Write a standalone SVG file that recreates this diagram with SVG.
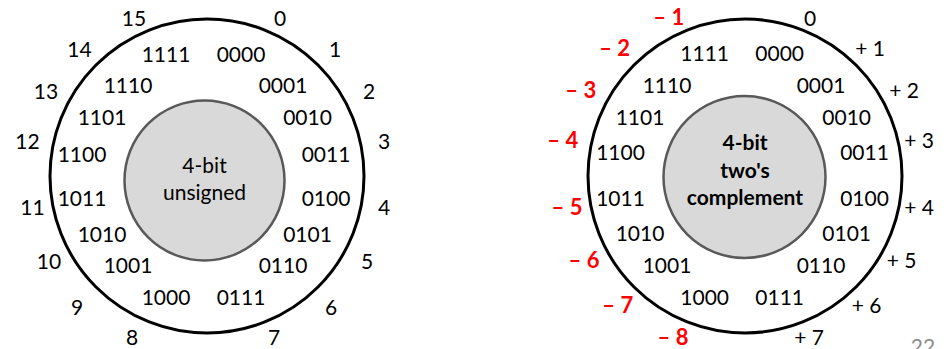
<svg xmlns="http://www.w3.org/2000/svg" width="947" height="349" viewBox="0 0 947 349">
<style>
text{font-family:Lato,"Liberation Sans",sans-serif;font-size:21px;text-anchor:middle;fill:#000}
.outer{fill:#fff;stroke:#000;stroke-width:3}
.inner{fill:#d9d9d9;stroke:#595959;stroke-width:2.5}
.neg{fill:#ff0000;font-weight:bold;font-size:22px}
.b{font-weight:bold}
.pg{fill:#8c8c8c}
</style>
<rect width="947" height="349" fill="#fff"/>
<g id="unsigned-wheel">
<circle class="outer" cx="207" cy="176" r="157"/>
<circle class="inner" cx="204.5" cy="180.5" r="80"/>
<text x="204.5" y="173">4-bit</text>
<text x="204.5" y="200">unsigned</text>
<g id="unsigned-binary">
<text x="166" y="62">1111</text>
<text x="241" y="62">0000</text>
<text x="128" y="93">1110</text>
<text x="283" y="93">0001</text>
<text x="102" y="125">1101</text>
<text x="307.5" y="125">0010</text>
<text x="82" y="162">1100</text>
<text x="326" y="162">0011</text>
<text x="82" y="206">1011</text>
<text x="326" y="206">0100</text>
<text x="102" y="242">1010</text>
<text x="307.5" y="242">0101</text>
<text x="128" y="273">1001</text>
<text x="283" y="273">0110</text>
<text x="166" y="305">1000</text>
<text x="241" y="305">0111</text>
</g>
<g id="unsigned-values">
<text x="134" y="26">15</text>
<text x="280" y="26">0</text>
<text x="79.5" y="57">14</text>
<text x="335" y="57">1</text>
<text x="46" y="99">13</text>
<text x="369" y="99">2</text>
<text x="27.5" y="149">12</text>
<text x="384" y="149">3</text>
<text x="32.5" y="215">11</text>
<text x="384" y="215">4</text>
<text x="49" y="269">10</text>
<text x="367" y="269">5</text>
<text x="77" y="315">9</text>
<text x="331" y="315">6</text>
<text x="132" y="345">8</text>
<text x="274" y="345">7</text>
</g>
</g>
<g id="twos-complement-wheel">
<circle class="outer" cx="745" cy="176" r="157"/>
<circle class="inner" cx="744.5" cy="177" r="81"/>
<text class="b" x="745" y="150">4-bit</text>
<text class="b" x="745" y="178">two's</text>
<text class="b" x="745" y="205">complement</text>
<g id="twos-binary">
<text x="704.7" y="61">1111</text>
<text x="779.7" y="61">0000</text>
<text x="667" y="93">1110</text>
<text x="821" y="93">0001</text>
<text x="640" y="125">1101</text>
<text x="846.7" y="125">0010</text>
<text x="620.5" y="160">1100</text>
<text x="864.5" y="160">0011</text>
<text x="620.5" y="206">1011</text>
<text x="864.5" y="206">0100</text>
<text x="640" y="241">1010</text>
<text x="846.7" y="241">0101</text>
<text x="667" y="273">1001</text>
<text x="821" y="273">0110</text>
<text x="704.7" y="305">1000</text>
<text x="779.7" y="305">0111</text>
</g>
<g id="twos-values">
<text class="neg" x="668.8" y="25">– 1</text>
<text x="810" y="26">0</text>
<text class="neg" x="614.7" y="56">– 2</text>
<text x="870" y="56">+ 1</text>
<text class="neg" x="580.8" y="98">– 3</text>
<text x="904" y="98">+ 2</text>
<text class="neg" x="562.8" y="148">– 4</text>
<text x="919" y="148">+ 3</text>
<text class="neg" x="567" y="215">– 5</text>
<text x="919" y="215">+ 4</text>
<text class="neg" x="584" y="268">– 6</text>
<text x="901.7" y="268">+ 5</text>
<text class="neg" x="617.8" y="313">– 7</text>
<text x="866.5" y="313">+ 6</text>
<text class="neg" x="673" y="345">– 8</text>
<text x="809" y="345">+ 7</text>
</g>
</g>
<text class="pg" x="923" y="354">22</text>
</svg>
